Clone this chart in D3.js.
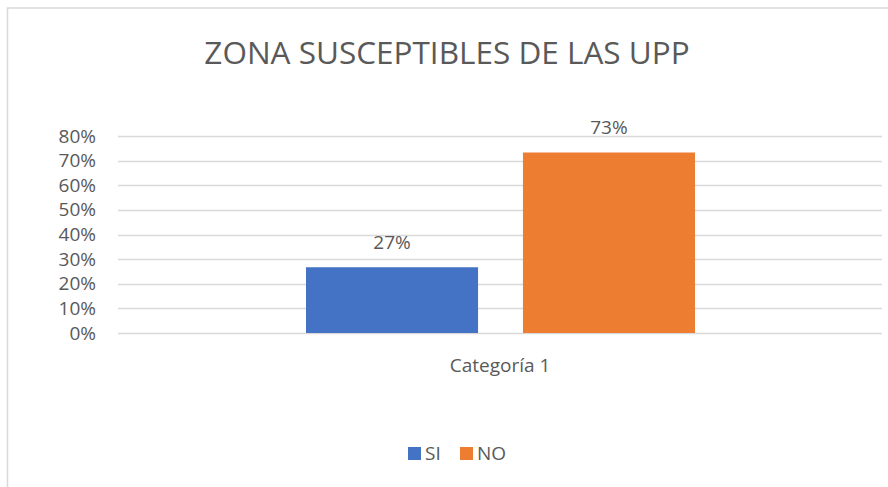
<!DOCTYPE html>
<html>
<head>
<meta charset="utf-8">
<script src="https://cdn.jsdelivr.net/npm/d3@7"></script>
<style>
  body { margin: 0; background: #fff; }
  text { font-family: "Open Sans", sans-serif; fill: #595959; }
</style>
</head>
<body>
<script>
const title = "ZONA SUSCEPTIBLES DE LAS UPP";
const categories = ["Categoría 1"];
const seriesNames = ["SI", "NO"];
const seriesValues = [0.267, 0.733];
const seriesColors = ["#4472c4", "#ed7d31"];
const yTicks = [0, 0.1, 0.2, 0.3, 0.4, 0.5, 0.6, 0.7, 0.8];

const W = 888, H = 487;
const svg = d3.select("body").append("svg").attr("width", W).attr("height", H);

// chart frame (runs off the right/bottom edge)
svg.append("rect").attr("x", 7.5).attr("y", 8).attr("width", 900).attr("height", 500)
  .attr("fill", "none").attr("stroke", "#d9d9d9").attr("stroke-width", 1.5);

const plot = { left: 118, right: 882, top: 136, bottom: 333 };

const y = d3.scaleLinear().domain([0, 0.8]).range([plot.bottom, plot.top]);
const x0 = d3.scaleBand().domain(categories).range([plot.left, plot.right]);
const x1 = d3.scaleBand().domain(seriesNames).range([188, 577]).paddingInner(0.207);

// gridlines
svg.append("g").selectAll("line").data(yTicks).join("line")
  .attr("x1", plot.left).attr("x2", plot.right)
  .attr("y1", d => Math.round(y(d)) + 0.5).attr("y2", d => Math.round(y(d)) + 0.5)
  .attr("stroke", "#d9d9d9").attr("stroke-width", 1.5);

// y axis labels
const yAxis = d3.axisLeft(y).tickValues(yTicks).tickFormat(d3.format(".0%")).tickSize(0).tickPadding(0);
const ya = svg.append("g").attr("transform", "translate(96,0)").call(yAxis);
ya.select(".domain").remove();
ya.selectAll("text").style("font-size", "19px").attr("fill", "#595959");

// bars
const g = svg.append("g");
categories.forEach(cat => {
  const bx = x0(cat);
  seriesNames.forEach((s, i) => {
    g.append("rect")
      .attr("x", bx + x1(s)).attr("width", x1.bandwidth())
      .attr("y", y(seriesValues[i])).attr("height", plot.bottom - y(seriesValues[i]))
      .attr("fill", seriesColors[i]);
    g.append("text")
      .attr("x", bx + x1(s) + x1.bandwidth() / 2).attr("y", y(seriesValues[i]) - 18)
      .attr("text-anchor", "middle").style("font-size", "19px")
      .text(d3.format(".0%")(seriesValues[i]));
  });
  svg.append("text").attr("x", bx + x0.bandwidth() / 2).attr("y", 372)
    .attr("text-anchor", "middle").style("font-size", "19px").text(cat);
});

// title
svg.append("text").attr("x", 447).attr("y", 64).attr("text-anchor", "middle")
  .style("font-size", "31.5px").text(title);

// legend
const legX = [408, 460];
seriesNames.forEach((s, i) => {
  svg.append("rect").attr("x", legX[i]).attr("y", 447).attr("width", 13).attr("height", 13)
    .attr("fill", seriesColors[i]);
  svg.append("text").attr("x", legX[i] + 17).attr("y", 460).style("font-size", "19px").text(s);
});
</script>
</body>
</html>
